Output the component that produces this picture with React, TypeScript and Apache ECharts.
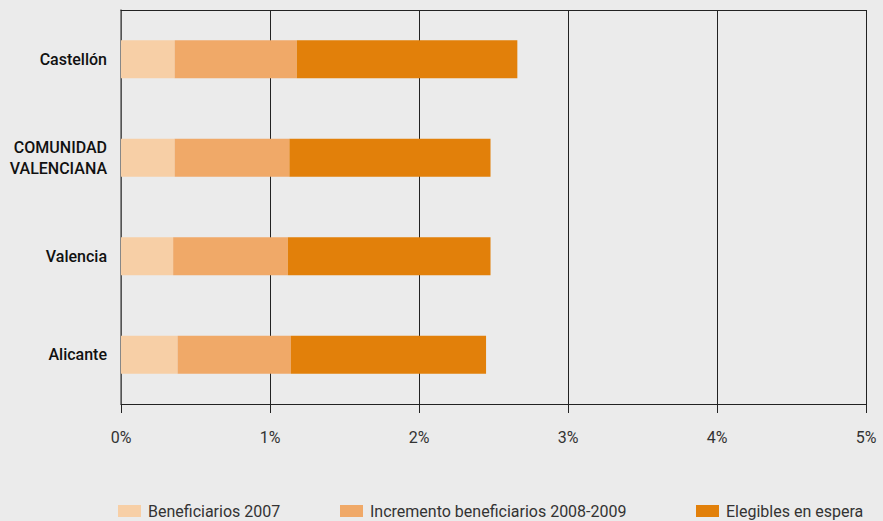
import React, { useEffect, useRef } from "react";
import * as echarts from "echarts";

const categories = ["Castellón", "COMUNIDAD\nVALENCIANA", "Valencia", "Alicante"];
const seriesNames = ["Beneficiarios 2007", "Incremento beneficiarios 2008-2009", "Elegibles en espera"];
const beneficiarios2007 = [0.36, 0.36, 0.35, 0.38];
const incremento20082009 = [0.82, 0.77, 0.77, 0.76];
const elegiblesEspera = [1.48, 1.35, 1.36, 1.31];
const xTicks = [0, 1, 2, 3, 4, 5];
const colors = ["#f7cfa6", "#f0a968", "#e2800a"];

export default function App() {
  const ref = useRef<HTMLDivElement>(null);
  useEffect(() => {
    if (!ref.current) return;
    const chart = echarts.init(ref.current, null, { renderer: "svg" });
    const font = "Roboto, 'DejaVu Sans', sans-serif";
    const dataSets = [beneficiarios2007, incremento20082009, elegiblesEspera];
    const legendLefts = [118, 340, 696];
    chart.setOption({
      animation: false,
      backgroundColor: "#ebebeb",
      textStyle: { fontFamily: font },
      grid: { left: 121, right: 17, top: 10, bottom: 117, containLabel: false },
      legend: seriesNames.map((n, i) => ({
        data: [n],
        left: legendLefts[i],
        top: 503,
        itemWidth: 23,
        itemHeight: 12,
        itemGap: 0,
        icon: "rect",
        textStyle: { fontSize: 16, color: "#333", fontFamily: font, padding: [0, 0, 0, 2] },
        padding: 0,
      })),
      xAxis: [
        {
          type: "value",
          min: xTicks[0],
          max: xTicks[xTicks.length - 1],
          interval: 1,
          axisLine: { show: true, lineStyle: { color: "#222", width: 1 } },
          axisTick: { show: true, length: 9, lineStyle: { color: "#222" } },
          axisLabel: {
            formatter: (v: number) => `${v}%`,
            fontSize: 16,
            color: "#333",
            margin: 25,
            fontFamily: font,
          },
          splitLine: { show: true, lineStyle: { color: "#222", width: 1 } },
        },
        {
          type: "value",
          position: "top",
          min: 0,
          max: 5,
          interval: 1,
          axisLine: { show: true, lineStyle: { color: "#222", width: 1 } },
          axisTick: { show: false },
          axisLabel: { show: false },
          splitLine: { show: false },
        },
      ],
      yAxis: {
        type: "category",
        data: categories,
        inverse: true,
        axisLine: { show: true, lineStyle: { color: "#666", width: 1.5 } },
        axisTick: { show: false },
        axisLabel: {
          fontSize: 16,
          color: "#111",
          fontWeight: 500,
          margin: 14,
          lineHeight: 21,
          fontFamily: font,
        },
      },
      series: seriesNames.map((n, i) => ({
        name: n,
        type: "bar",
        stack: "total",
        barWidth: "38.5%",
        xAxisIndex: 0,
        itemStyle: { color: colors[i] },
        data: dataSets[i],
      })),
    });
    return () => chart.dispose();
  }, []);
  return <div ref={ref} style={{ width: 883, height: 521, position: "absolute", left: 0, top: 0 }} />;
}
